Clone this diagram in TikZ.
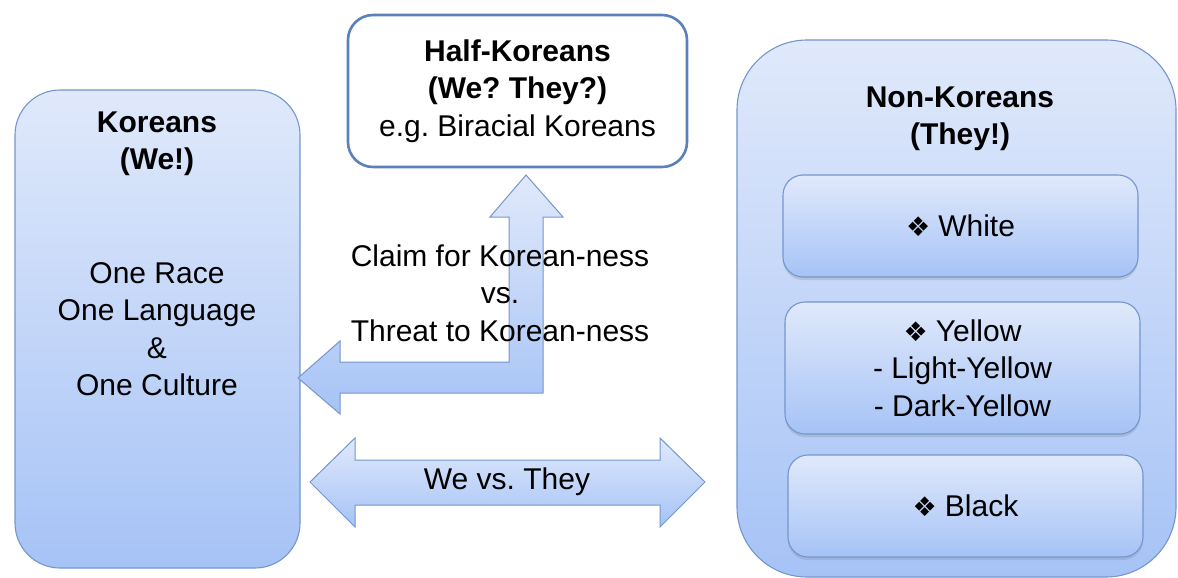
\documentclass[tikz,border=0pt]{standalone}
\usepackage{fontspec}
\setmainfont{Liberation Sans}
\newfontfamily\symfont{DejaVu Sans}
\usetikzlibrary{shadows}
\definecolor{boxtop}{HTML}{E0E9FB}
\definecolor{boxbot}{HTML}{A6C3F6}
\definecolor{edge}{HTML}{7496CC}
\definecolor{halfedge}{HTML}{5B80BA}
% four-diamond bullet
\newcommand{\dbul}{{\symfont\fontsize{27}{27}\selectfont ❖}\hspace{8pt}}
\frenchspacing

\begin{document}
\begin{tikzpicture}[x=1pt,y=-1pt,
  every node/.style={font=\fontsize{30}{37.5}\selectfont, align=center, inner sep=0pt, text=black},
  panel/.style={draw=edge, line width=1.1pt, top color=boxtop, bottom color=boxbot,
                rounded corners=#1},
  subbox/.style={panel=20pt, minimum width=355pt,
                 drop shadow={shadow xshift=0pt, shadow yshift=-3pt, opacity=0.25}},
  blockarrow/.style={draw=edge, line width=1pt, top color=boxtop, bottom color=boxbot,
                     line join=miter}]
\useasboundingbox (0,0) rectangle (1178,578);

% Koreans panel
\node[panel=45pt, minimum width=285pt, minimum height=478pt] (koreans) at (157.5,329) {};
\node (ktitle) at (157,144) {\textbf{Koreans}\\\textbf{(We!)}};
\node (kbody) at (157,329) {One Race\\One Language\\\&\\One Culture};

% Half-Koreans box
\node[draw=halfedge, line width=2.6pt, fill=white, rounded corners=25pt,
      minimum width=339pt, minimum height=152pt] (half) at (517.5,91)
      {\textbf{Half-Koreans}\\\textbf{(We? They?)}\\e.g. Biracial Koreans};

% Non-Koreans panel with its three groups
\node[panel=70pt, minimum width=439pt, minimum height=537pt] (nonk) at (956.5,308.5) {};
\node (ntitle) at (960,119) {\textbf{Non-Koreans}\\\textbf{(They!)}};
\node[subbox, minimum height=102pt] (white) at (960.5,226) {\dbul White};
\node[subbox, minimum height=132pt] (yellow) at (962.5,368)
      {\dbul Yellow\\- Light-Yellow\\- Dark-Yellow};
\node[subbox, minimum height=102pt] (black) at (965.5,506) {\dbul Black};

% Bent arrow between the Half-Koreans and the Koreans
\path[blockarrow] (526,175) -- (563,217) -- (543,217) -- (543,393) -- (340,393)
  -- (340,414) -- (298,378) -- (340,341) -- (340,362) -- (509,362) -- (509,217)
  -- (490,217) -- cycle;
\node (claim) at (500,293) {Claim for Korean-ness\\vs.\\Threat to Korean-ness};

% Double arrow between Koreans and Non-Koreans
\path[blockarrow] (310,482) -- (355,438) -- (355,460) -- (660,460) -- (660,438)
  -- (705,482) -- (660,527) -- (660,505) -- (355,505) -- (355,527) -- cycle;
\node (wethey) at (507,482) {We vs. They};
\end{tikzpicture}
\end{document}
